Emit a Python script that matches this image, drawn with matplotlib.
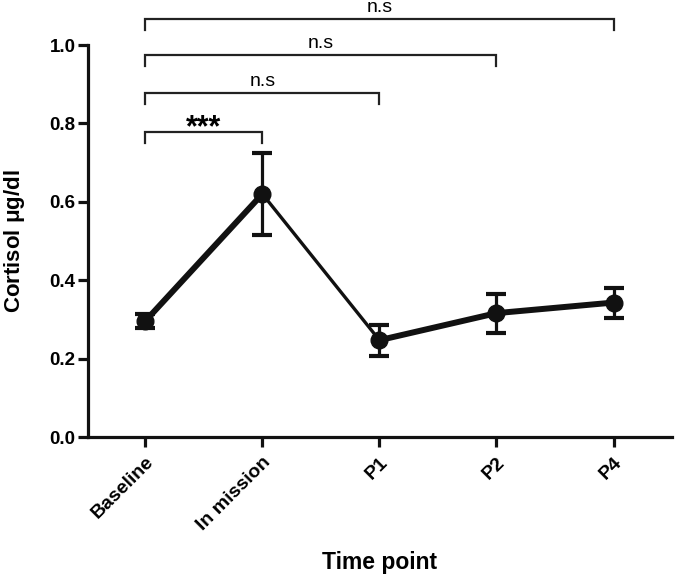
import matplotlib
matplotlib.use("Agg")
import matplotlib.pyplot as plt

categories = ["Baseline", "In mission", "P1", "P2", "P4"]
means = [0.296, 0.620, 0.247, 0.316, 0.343]
err_low = [0.279, 0.516, 0.206, 0.265, 0.304]
err_high = [0.314, 0.724, 0.285, 0.364, 0.381]
yticks = [0.0, 0.2, 0.4, 0.6, 0.8, 1.0]
ytick_labels = ["0.0", "0.2", "0.4", "0.6", "0.8", "1.0"]

# significance brackets: (start index, end index, height, label)
brackets = [(0, 1, 0.778, "***"), (0, 2, 0.878, "n.s"), (0, 3, 0.974, "n.s"), (0, 4, 1.066, "n.s")]

plt.rcParams['font.family'] = ['Liberation Sans', 'DejaVu Sans']

fig = plt.figure(figsize=(6.75, 5.75), dpi=100)
ax = fig.add_axes([0.1304, 0.24, 0.9956 - 0.1304, 0.9217 - 0.24])

x = list(range(len(categories)))
yerr = [[m - lo for m, lo in zip(means, err_low)], [hi - m for m, hi in zip(means, err_high)]]

# connecting line, segment widths as in the original rendering
seg_widths = [4.3, 2.4, 4.3, 4.3]
for i in range(len(x) - 1):
    ax.plot(x[i:i + 2], means[i:i + 2], color='#111111', lw=seg_widths[i],
            solid_capstyle='round', zorder=2)
ax.errorbar(x, means, yerr=yerr, color='#111111', lw=0, marker='o', ms=12,
            elinewidth=2.3, capsize=7, capthick=3, zorder=3)

ax.set_xlim(-0.49, 4.5)
ax.set_ylim(0, 1.0)
ax.set_yticks(yticks)
ax.set_yticklabels(ytick_labels, fontsize=13.5, fontweight='bold')
ax.set_xticks(x)
ax.set_xticklabels(categories, fontsize=14, fontweight='bold', rotation=45,
                   ha='right', va='top', rotation_mode='anchor')

for s in ['top', 'right']:
    ax.spines[s].set_visible(False)
for s in ['left', 'bottom']:
    ax.spines[s].set_linewidth(2.3)
    ax.spines[s].set_color('#111111')
ax.tick_params(axis='both', direction='out', length=7, width=2.3, color='#111111', pad=2)
ax.tick_params(axis='x', pad=5)

ax.set_xlabel("Time point", fontsize=16.5, fontweight='bold', labelpad=12)
ax.set_ylabel("Cortisol $\\mathregular{\\mu}$g/dl", fontsize=16, fontweight='bold', labelpad=16)

drop = 0.028
for i0, i1, h, lab in brackets:
    ax.plot([i0, i0, i1, i1], [h - drop, h, h, h - drop], color='#222222', lw=1.6,
            clip_on=False, solid_joinstyle='miter')
    if lab == "***":
        ax.text((i0 + i1) / 2, h - 0.028, lab, ha='center', va='bottom', fontsize=22,
                fontweight='bold', clip_on=False)
    else:
        ax.text((i0 + i1) / 2, h + 0.008, lab, ha='center', va='bottom', fontsize=14,
                clip_on=False)

fig.savefig("out.png", dpi=100)
